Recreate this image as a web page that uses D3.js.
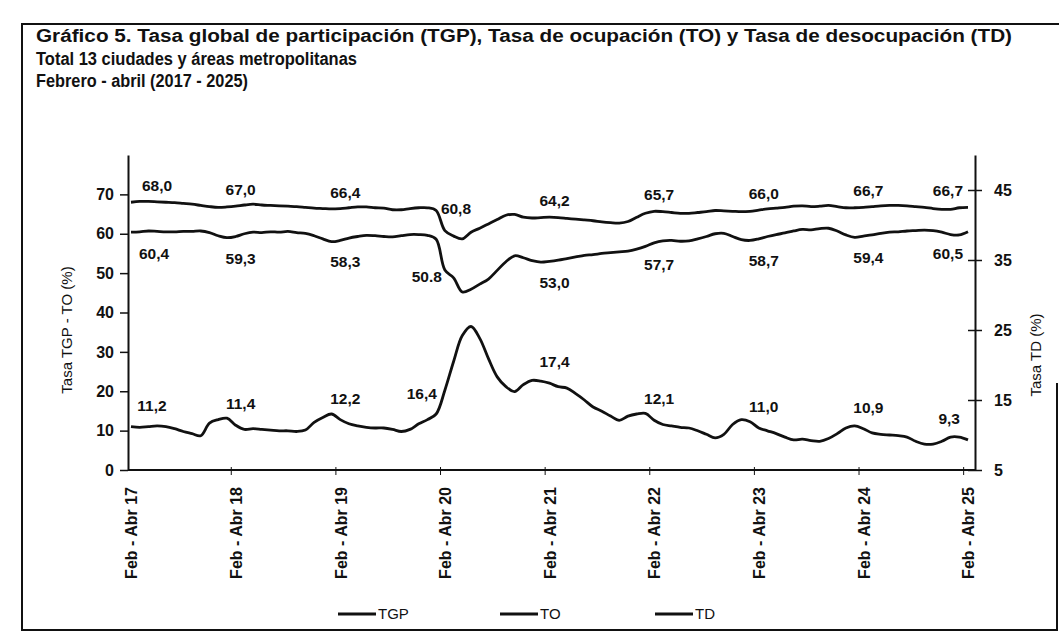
<!DOCTYPE html>
<html>
<head>
<meta charset="utf-8">
<script src="https://cdn.jsdelivr.net/npm/d3@7"></script>
<style>
  body { margin: 0; background: #fff; }
  svg { display: block; font-family: "Liberation Sans", Arial, sans-serif; }
</style>
</head>
<body>
<div id="chart"></div>
<script>
// Moving quarters, Feb-Abr 17 ... Feb-Abr 25 (97 points)
var monthNames = ["Ene", "Feb", "Mar", "Abr", "May", "Jun", "Jul", "Ago", "Sep", "Oct", "Nov", "Dic"];
var tickLabels = ["Feb - Abr 17", "Feb - Abr 18", "Feb - Abr 19", "Feb - Abr 20", "Feb - Abr 21",
    "Feb - Abr 22", "Feb - Abr 23", "Feb - Abr 24", "Feb - Abr 25"];

// Tasa global de participación (%)
var tgp = [
    68.0, 68.2, 68.2, 68.1, 68.0, 67.9, 67.7, 67.5, 67.2, 66.9, 66.7, 66.8,
    67.0, 67.3, 67.5, 67.3, 67.2, 67.1, 67.0, 66.9, 66.7, 66.5, 66.4, 66.3,
    66.4, 66.6, 66.8, 66.8, 66.6, 66.5, 66.1, 66.1, 66.4, 66.6, 66.6, 65.9,
    60.8, 59.4, 58.7, 60.4, 61.4, 62.5, 63.6, 64.7, 64.9, 64.2, 64.0, 64.1,
    64.2, 64.1, 63.9, 63.7, 63.5, 63.3, 63.0, 62.8, 62.7, 63.1, 64.2, 65.2,
    65.7, 65.6, 65.4, 65.2, 65.2, 65.4, 65.6, 65.9, 65.8, 65.7, 65.6, 65.7,
    66.0, 66.3, 66.5, 66.7, 67.0, 67.1, 66.9, 67.0, 67.2, 66.9, 66.6, 66.6,
    66.7, 66.9, 67.1, 67.2, 67.2, 67.1, 66.9, 66.7, 66.4, 66.2, 66.2, 66.6,
    66.7
];
// Tasa de ocupación (%)
var to = [
    60.4, 60.5, 60.7, 60.6, 60.5, 60.5, 60.6, 60.6, 60.7, 60.3, 59.5, 59.0,
    59.3, 60.0, 60.4, 60.3, 60.5, 60.4, 60.6, 60.3, 60.1, 59.5, 58.7, 58.0,
    58.3, 58.9, 59.3, 59.6, 59.5, 59.3, 59.2, 59.5, 59.8, 59.8, 59.6, 58.6,
    50.8, 48.8, 45.2, 45.9, 47.2, 48.5, 50.7, 52.9, 54.4, 53.9, 53.2, 52.8,
    53.0, 53.3, 53.7, 54.1, 54.5, 54.7, 55.0, 55.2, 55.4, 55.6, 56.1, 56.8,
    57.7, 58.2, 58.3, 58.1, 58.2, 58.7, 59.3, 60.0, 60.1, 59.3, 58.5, 58.3,
    58.7, 59.3, 59.8, 60.2, 60.7, 61.1, 61.0, 61.3, 61.4, 60.7, 59.7, 59.1,
    59.4, 59.7, 60.1, 60.4, 60.5, 60.7, 60.8, 60.9, 60.8, 60.4, 59.8, 59.7,
    60.5
];
// Tasa de desocupación (%), right axis
var td = [
    11.2, 11.1, 11.2, 11.3, 11.2, 10.9, 10.5, 10.2, 9.9, 11.7, 12.2, 12.4,
    11.4, 10.8, 10.9, 10.8, 10.7, 10.6, 10.6, 10.5, 10.7, 11.8, 12.5, 13.0,
    12.2, 11.6, 11.3, 11.1, 11.0, 11.0, 10.8, 10.5, 10.8, 11.6, 12.2, 13.0,
    16.4, 20.5, 24.2, 25.5, 23.8, 20.9, 18.3, 16.9, 16.2, 17.2, 17.8, 17.7,
    17.4, 16.9, 16.7, 15.9, 15.0, 14.0, 13.4, 12.7, 12.1, 12.7, 13.0, 13.1,
    12.1, 11.5, 11.3, 11.1, 11.0, 10.6, 10.1, 9.6, 10.1, 11.5, 12.2, 11.9,
    11.0, 10.6, 10.2, 9.7, 9.3, 9.4, 9.2, 9.1, 9.5, 10.2, 11.0, 11.3,
    10.9, 10.3, 10.1, 10.0, 9.9, 9.7, 9.1, 8.7, 8.7, 9.1, 9.7, 9.7,
    9.3
];

// Value labels shown at each Feb - Abr point (text as printed)
var tgpLabels = ["68,0", "67,0", "66,4", "60,8", "64,2", "65,7", "66,0", "66,7", "66,7"];
var toLabels = ["60,4", "59,3", "58,3", "50.8", "53,0", "57,7", "58,7", "59,4", "60,5"];
var tdLabels = ["11,2", "11,4", "12,2", "16,4", "17,4", "12,1", "11,0", "10,9", "9,3"];

var leftTicks = [0, 10, 20, 30, 40, 50, 60, 70];
var rightTicks = [5, 15, 25, 35, 45];
var seriesNames = ["TGP", "TO", "TD"];

// category names for the moving quarters
var categories = tgp.map(function(d, i) {
    var m = 1 + i;                       // start month index (Feb = 1)
    var start = monthNames[m % 12];
    var end = monthNames[(m + 2) % 12];
    var yy = 17 + Math.floor((m + 2) / 12);
    return start + " - " + end + " " + yy;
});

var width = 1059, height = 643;

var svg = d3.select("#chart").append("svg")
    .attr("width", width)
    .attr("height", height);

svg.append("rect").attr("width", width).attr("height", height).attr("fill", "#fff");

// frame
svg.append("path")
    .attr("d", "M1059,24 L22,24 L22,630 L1057,630 L1057,383")
    .attr("fill", "none")
    .attr("stroke", "#111")
    .attr("stroke-width", 2);

// title (each line stretched to the printed width)
var titleLines = [
    "Gráfico 5. Tasa global de participación (TGP), Tasa de ocupación (TO) y Tasa de desocupación (TD)",
    "Total 13 ciudades y áreas metropolitanas",
    "Febrero - abril (2017 - 2025)"
];
var titleWidths = [976, 321, 212];
svg.append("g").selectAll("text")
    .data(titleLines)
    .enter().append("text")
    .attr("x", 36)
    .attr("y", (d, i) => 42 + i * 22.5)
    .attr("textLength", (d, i) => titleWidths[i])
    .attr("lengthAdjust", "spacingAndGlyphs")
    .style("font-size", "18px")
    .style("font-weight", "bold")
    .attr("fill", "#111")
    .text(d => d);

// scales
var x = d3.scalePoint().domain(categories).range([131, 968]);
var yL = d3.scaleLinear().domain([0, 80]).range([470, 155]);
var yR = d3.scaleLinear().domain([5, 50]).range([470, 155]);

var chart = svg.append("g");

// left axis
var leftAxis = chart.append("g")
    .attr("transform", "translate(128,0)")
    .call(d3.axisLeft(yL).tickValues(leftTicks).tickSize(8).tickSizeOuter(0).tickPadding(6));

// right axis (ticks cross the line)
var rightAxis = chart.append("g")
    .attr("transform", "translate(975,0)")
    .call(d3.axisRight(yR).tickValues(rightTicks).tickSize(7).tickSizeOuter(0).tickPadding(12));
rightAxis.selectAll(".tick line").attr("x1", -7);

// bottom axis
var tickCats = categories.filter((d, i) => i % 12 === 0);
var bottomAxis = chart.append("g")
    .attr("transform", "translate(0,470)")
    .call(d3.axisBottom(x).tickValues(tickCats).tickSize(0)
        .tickFormat((d, i) => tickLabels[i]));
bottomAxis.select(".domain").attr("d", "M128,0H975");
bottomAxis.selectAll(".tick text")
    .attr("transform", "rotate(-90)")
    .attr("x", -17)
    .attr("y", 0)
    .attr("dy", "0.36em")
    .style("text-anchor", "end")
    .style("font-size", "16px")
    .style("font-weight", "bold");
bottomAxis.selectAll(".tickmark")
    .data(tickCats.slice(1))
    .enter().append("line")
    .attr("class", "tickmark")
    .attr("x1", d => x(d) - x.step() / 2)
    .attr("x2", d => x(d) - x.step() / 2)
    .attr("y1", -3)
    .attr("y2", 5)
    .attr("stroke", "#111");

[leftAxis, rightAxis, bottomAxis].forEach(function(a) {
    a.selectAll(".domain").attr("stroke", "#111").attr("stroke-width", 2);
    a.selectAll(".tick line").attr("stroke", "#111").attr("stroke-width", 1.5);
    a.selectAll(".tick text").attr("fill", "#111");
});
[leftAxis, rightAxis].forEach(function(a) {
    a.selectAll(".tick text")
        .style("font-size", "16px")
        .style("font-weight", "bold")
        .style("font-family", "'Liberation Sans', Arial, sans-serif");
});

// axis titles
svg.append("text")
    .attr("transform", "translate(72,330) rotate(-90)")
    .style("text-anchor", "middle")
    .style("font-size", "15px")
    .attr("fill", "#111")
    .text("Tasa TGP - TO (%)");
svg.append("text")
    .attr("transform", "translate(1041,355) rotate(-90)")
    .style("text-anchor", "middle")
    .style("font-size", "15px")
    .attr("fill", "#111")
    .text("Tasa TD (%)");

// lines
var lineL = d3.line()
    .x((d, i) => x(categories[i]))
    .y(d => yL(d))
    .curve(d3.curveCatmullRom.alpha(0.5));
var lineR = d3.line()
    .x((d, i) => x(categories[i]))
    .y(d => yR(d))
    .curve(d3.curveCatmullRom.alpha(0.5));

[[tgp, lineL], [to, lineL], [td, lineR]].forEach(function(s) {
    chart.append("path")
        .datum(s[0])
        .attr("d", s[1])
        .attr("fill", "none")
        .attr("stroke", "#111")
        .attr("stroke-width", 2.8)
        .attr("stroke-linejoin", "round");
});

// value labels at Feb - Abr points
function addLabels(values, labels, scale, kind) {
    var idx = labels.map((d, k) => k * 12);
    chart.append("g").selectAll("text")
        .data(labels)
        .enter().append("text")
        .attr("x", function(d, k) {
            var cx = x(categories[idx[k]]);
            if (k === 0) return cx + (kind === "TGP" ? 26 : kind === "TO" ? 23 : 21);
            if (k === labels.length - 1) return cx - (kind === "TD" ? 8 : 5);
            if (k === 3) return kind === "TGP" ? cx - 4 : cx - (kind === "TO" ? 3 : 8);
            return cx + 5;
        })
        .attr("y", function(d, k) {
            var cy = scale(values[idx[k]]);
            if (k === 3) return kind === "TGP" ? cy - 17 : kind === "TO" ? cy + 12 : cy + 9;
            return kind === "TO" ? cy + 27 : kind === "TGP" ? cy - 11 : cy - 16;
        })
        .style("text-anchor", function(d, k) {
            if (k === labels.length - 1) return "end";
            if (k === 3) return kind === "TGP" ? "start" : "end";
            return "middle";
        })
        .style("font-size", "15.5px")
        .style("font-weight", "bold")
        .attr("fill", "#111")
        .text(d => d);
}
addLabels(tgp, tgpLabels, yL, "TGP");
addLabels(to, toLabels, yL, "TO");
addLabels(td, tdLabels, yR, "TD");

// legend
var legendX = [338, 500, 655];
var legend = svg.append("g").selectAll("g")
    .data(seriesNames)
    .enter().append("g")
    .attr("transform", (d, i) => "translate(" + legendX[i] + ",614)");
legend.append("line")
    .attr("x1", 0).attr("x2", 38)
    .attr("stroke", "#111")
    .attr("stroke-width", 2.8);
legend.append("text")
    .attr("x", 40)
    .attr("dy", "0.35em")
    .style("font-size", "15px")
    .attr("fill", "#111")
    .text(d => d);
</script>
</body>
</html>
